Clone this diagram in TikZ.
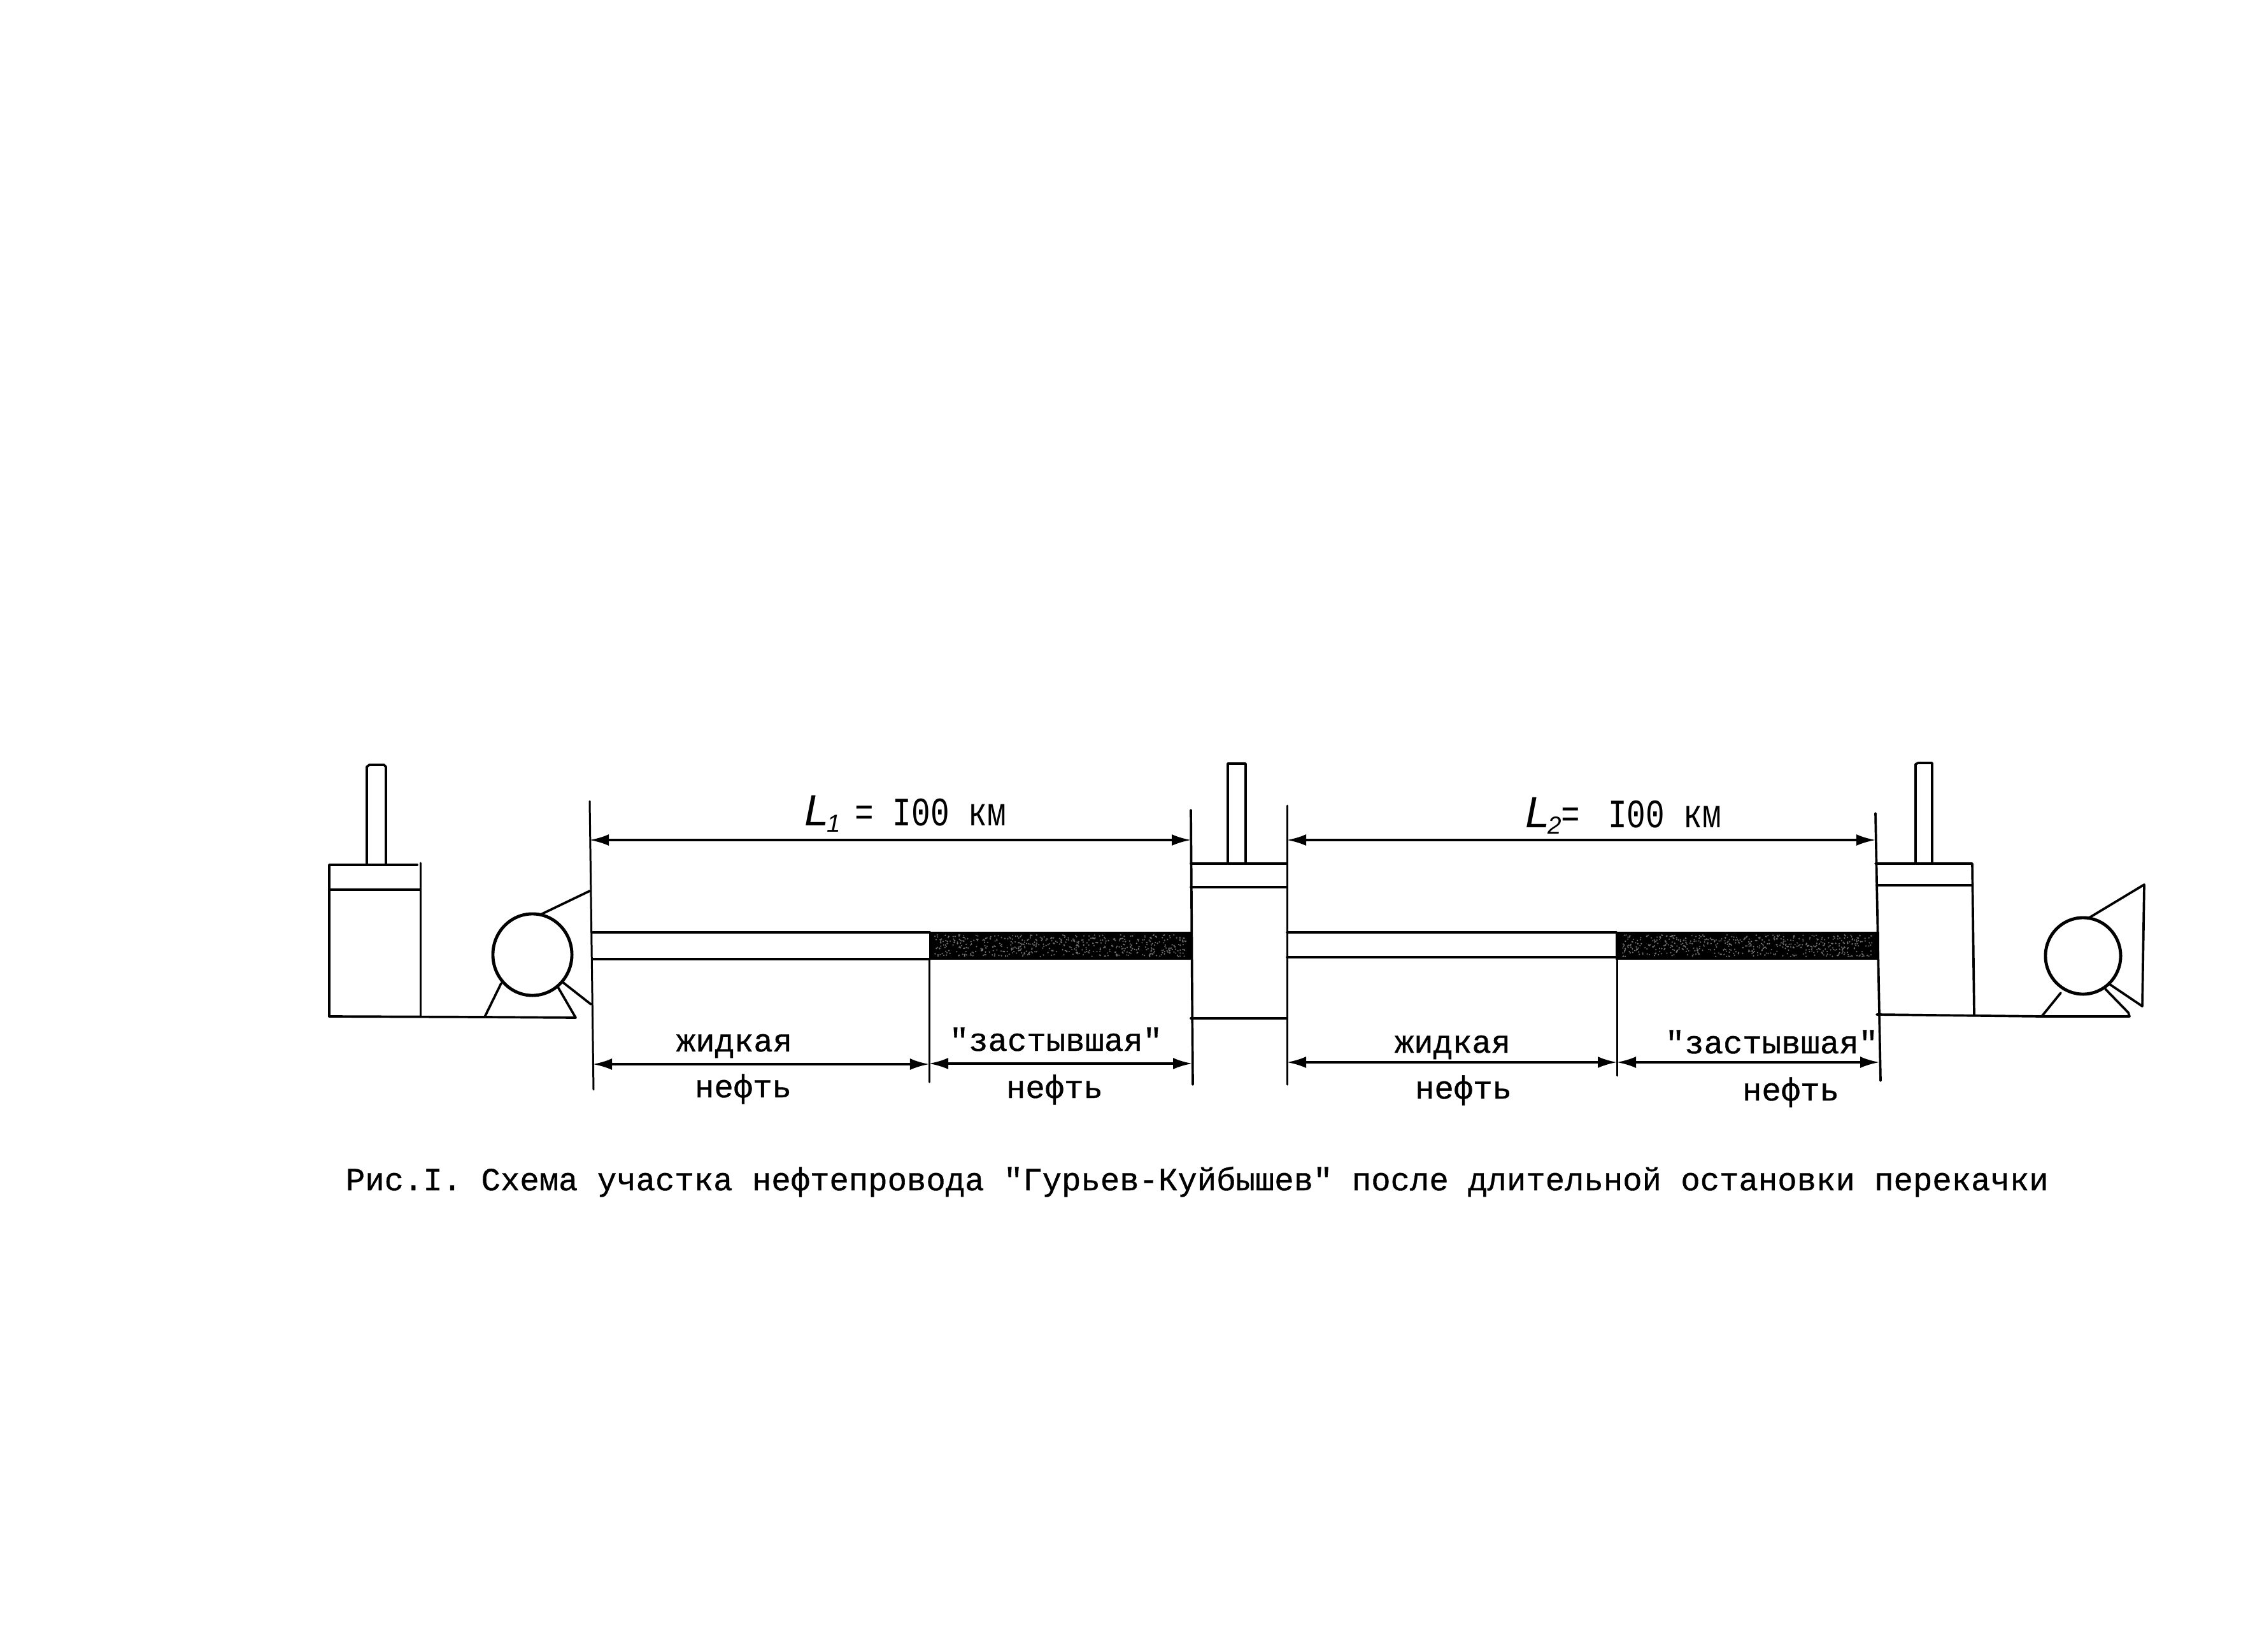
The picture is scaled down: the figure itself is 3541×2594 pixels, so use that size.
\documentclass[tikz,border=0pt]{standalone}
\usepackage{fontspec}
\newfontfamily\monotext[FakeBold=0.7]{Liberation Mono}
\newfontfamily\tallmono[FakeStretch=0.78]{Liberation Mono}
\newfontfamily\lsans{Liberation Sans}
\usetikzlibrary{arrows.meta,shapes.geometric}
\newcommand{\typeface}{\monotext\fontsize{14.4pt}{16pt}\selectfont}
\newcommand{\lenlabel}[1]{{\lsans\itshape\fontsize{19.5pt}{20pt}\selectfont L}\kern-1pt\raisebox{-3pt}{\lsans\itshape\fontsize{11pt}{12pt}\selectfont #1}}
\newcommand{\lentext}{\tallmono\fontsize{18pt}{20pt}\selectfont}
\tikzset{
  line/.style={line width=1.05pt, line cap=round, line join=round},
  thin line/.style={line width=0.85pt, line cap=round},
  dim/.style={line width=0.95pt, {Latex[length=0.3cm,width=0.18cm]}-{Latex[length=0.3cm,width=0.18cm]}},
  lbl/.style={anchor=base, inner sep=0pt, font=\typeface},
  lenlbl/.style={anchor=base west, inner sep=0pt},
  oil/.style={fill=black, draw=black, line width=0.8pt},
  grain/.style={fill=white!45!black},
  pumpbody/.style={draw, ellipse, line width=1.4pt, inner sep=0pt, outer sep=0pt}
}
\begin{document}
\begin{tikzpicture}[x=0.01cm,y=-0.01cm]
\useasboundingbox[fill=white] (0,0) rectangle (3541,2594);

% frozen-oil sections of the pipe
\fill[oil] (1460,1464) rectangle (1870,1506);
\fill[oil] (2538,1464) rectangle (2950,1506);
\pgfmathsetseed{11}
\foreach \i in {1,...,550}{
  \pgfmathsetmacro\xa{1468+rnd*395}\pgfmathsetmacro\ya{1468+rnd*34}
  \fill[grain] (\xa,\ya) circle (1.2);
  \pgfmathsetmacro\xb{2546+rnd*396}\pgfmathsetmacro\yb{1468+rnd*34}
  \fill[grain] (\xb,\yb) circle (1.2);
}

% extension lines
\coordinate (w1t) at (926,1258);  \coordinate (w1b) at (932,1711);
\coordinate (v1t) at (1459,1506); \coordinate (v1b) at (1459,1699);
\coordinate (w2t) at (1870,1272); \coordinate (w2b) at (1873,1703);
\coordinate (w3t) at (2021,1265); \coordinate (w3b) at (2021,1703);
\coordinate (v2t) at (2539,1506); \coordinate (v2b) at (2539,1689);
\coordinate (w4t) at (2945,1277); \coordinate (w4b) at (2953,1697);
\draw[thin line] (w1t) -- (w1b);
\draw[thin line] (v1t) -- (v1b);
\draw[line] (w2t) -- (w2b);
\draw[thin line] (w3t) -- (w3b);
\draw[thin line] (v2t) -- (v2b);
\draw[line] (w4t) -- (w4b);

% pipe walls
\draw[line] (931,1464) -- (1460,1464);
\draw[line] (931,1506) -- (1460,1506);
\draw[line] (2021,1464) -- (2538,1464);
\draw[line] (2021,1503) -- (2538,1503);

% left tank
\draw[line] (517,1596) -- (517,1358) -- (655,1358);
\draw[thin line] (660,1355) -- (660,1596);
\draw[line] (517,1397) -- (660,1397);
\draw[line] (576,1358) -- (576,1204) -- (580,1201) -- (603,1201) -- (606,1204) -- (606,1358);
% middle tank
\draw[line] (1870,1356) -- (2021,1356);
\draw[line] (1870,1393) -- (2021,1393);
\draw[line] (1870,1599) -- (2021,1599);
\draw[line] (1928,1356) -- (1928,1199) -- (1956,1199) -- (1956,1356);
% right tank
\draw[line] (2945,1356) -- (3097,1356) -- (3100,1593);
\draw[line] (2947,1390) -- (3097,1390);
\draw[line] (3008,1356) -- (3008,1200) -- (3012,1198) -- (3034,1198) -- (3034,1356);

% left pump
\node[pumpbody, minimum width=1.24cm, minimum height=1.28cm] (pumpa) at (836,1499) {};
\coordinate (a1) at (926,1399);
\coordinate (a2) at (928,1577);
\coordinate (a3) at (761,1597);
\coordinate (a4) at (904,1598);
\draw[line] (849,1436) -- (a1);
\draw[line] (882,1541) -- (a2);
\draw[line] (787,1544) -- (a3) -- (a4) -- (875,1548);
\draw[line] (517,1596) -- (a3);

% right pump
\node[pumpbody, minimum width=1.18cm, minimum height=1.20cm] (pumpb) at (3271,1501) {};
\coordinate (b1) at (3367,1389);
\coordinate (b2) at (3364,1580);
\coordinate (b3) at (3206,1596);
\coordinate (b4) at (3344,1596);
\draw[line] (3279,1442) -- (b1) -- (b2) -- (3312,1545);
\draw[line] (3236,1559) -- (b3) -- (b4) -- (3342,1590) -- (3306,1553);
\draw[line] (2947,1593) -- (b3);

% dimension lines
\draw[dim] (w1t |- 0,1319) -- (w2t |- 0,1319);
\draw[dim] (w3t |- 0,1319) -- (w4t |- 0,1319);
\draw[dim] (931,1671) -- (v1t |- 0,1671);
\draw[dim] (v1t |- 0,1670) -- (1872,1670);
\draw[dim] (w3t |- 0,1668) -- (v2t |- 0,1668);
\draw[dim] (v2t |- 0,1668) -- (2951,1668);

% labels
\node[lenlbl] (l1) at (1263,1296) {\lenlabel{1}\hspace{6.5pt}{\lentext = I00 км}};
\node[lenlbl] (l2) at (2395,1299) {\lenlabel{2}{\lentext =\hspace{4pt} I00 км}};
\node[lbl] (liq1) at (1153,1651) {жидкая};
\node[lbl] (oil1) at (1167,1723) {нефть};
\node[lbl] (fro1) at (1658,1650) {"застывшая"};
\node[lbl] (oil2) at (1656,1724) {нефть};
\node[lbl] (liq2) at (2281,1653) {жидкая};
\node[lbl] (oil3) at (2298,1725) {нефть};
\node[lbl] (fro2) at (2782,1654) {"застывшая"};
\node[lbl] (oil4) at (2812,1728) {нефть};
\node[lbl] (cap) at (1880,1869) {Рис.I. Схема участка нефтепровода "Гурьев-Куйбышев" после длительной остановки перекачки};
\end{tikzpicture}
\end{document}
